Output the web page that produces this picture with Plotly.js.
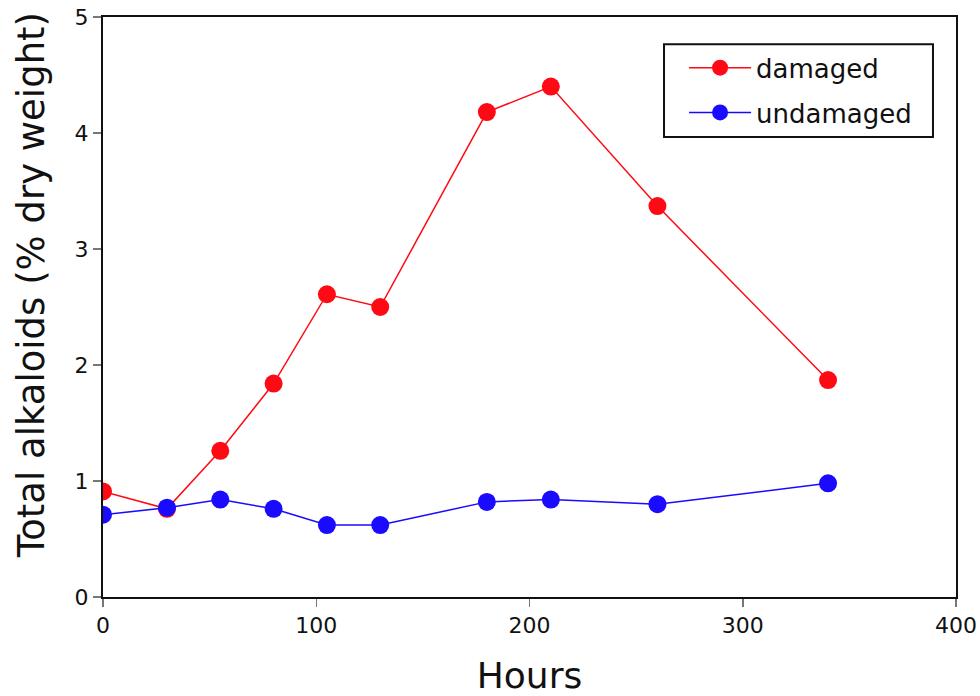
<!DOCTYPE html>
<html><head><meta charset="utf-8">
<script src="https://cdn.plot.ly/plotly-3.0.1.min.js"></script>
<style>html,body{margin:0;padding:0;background:#fff}</style>
</head><body>
<div id="chart" style="width:980px;height:696px"></div>
<script>
const hours = [0, 30, 55, 80, 105, 130, 180, 210, 260, 340];
const damaged = [0.91, 0.76, 1.26, 1.84, 2.61, 2.50, 4.18, 4.40, 3.37, 1.87];
const undamaged = [0.71, 0.77, 0.84, 0.76, 0.62, 0.62, 0.82, 0.84, 0.80, 0.98];
const xTicks = [0, 100, 200, 300, 400];
const yTicks = [0, 1, 2, 3, 4, 5];
const yTitle = 'Total alkaloids (% dry weight)';
const xTitle = 'Hours';

const font = '"DejaVu Sans", "Noto Sans", sans-serif';
const traces = [
  {x: hours, y: damaged, name: 'damaged', mode: 'lines+markers', legendgroup: 'a',
   line: {color: '#ff0a14', width: 1.5}, marker: {color: '#ff0a14', size: 18}},
  {x: hours, y: undamaged, name: 'undamaged', mode: 'lines+markers', legendgroup: 'b',
   line: {color: '#1a0aff', width: 1.5}, marker: {color: '#1a0aff', size: 18}}
];
const layout = {
  width: 980, height: 696,
  margin: {l: 103, r: 24, t: 17, b: 99},
  paper_bgcolor: '#fff', plot_bgcolor: '#fff',
  font: {family: font, color: '#111', size: 22},
  showlegend: true,
  legend: {x: 0.6812, xanchor: 'left', y: 0.953, yanchor: 'top',
    borderwidth: 0, font: {size: 26, family: font},
    bgcolor: 'rgba(0,0,0,0)', itemwidth: 62, tracegroupgap: 8},
  shapes: [{type: 'rect', xref: 'paper', yref: 'paper', layer: 'below',
    x0: 0.6577, x1: 0.973, y0: 0.793, y1: 0.953,
    line: {color: '#111', width: 2}, fillcolor: '#fff'}],
  xaxis: {range: [0, 400], tickvals: xTicks, ticktext: xTicks.map(String),
    showgrid: false, zeroline: false, showline: true, linecolor: '#111', linewidth: 2,
    mirror: true, ticks: 'outside', ticklen: 8, tickcolor: '#777', tickwidth: 1.5,
    tickfont: {size: 22, family: font},
    title: {text: xTitle, font: {size: 36, family: font}, standoff: 30}},
  yaxis: {range: [0, 5], tickvals: yTicks, ticktext: yTicks.map(String),
    showgrid: false, zeroline: false, showline: true, linecolor: '#111', linewidth: 2,
    mirror: true, ticks: 'outside', ticklen: 8, tickcolor: '#777', tickwidth: 1.5,
    tickfont: {size: 22, family: font}},
  annotations: [{text: yTitle, textangle: -90, xref: 'paper', yref: 'paper',
    x: -0.083, y: 0.538, xanchor: 'center', yanchor: 'middle', showarrow: false,
    font: {size: 37, family: font, color: '#111'}}]
};
Plotly.newPlot('chart', traces, layout, {displayModeBar: false, staticPlot: true});
</script>
</body></html>
